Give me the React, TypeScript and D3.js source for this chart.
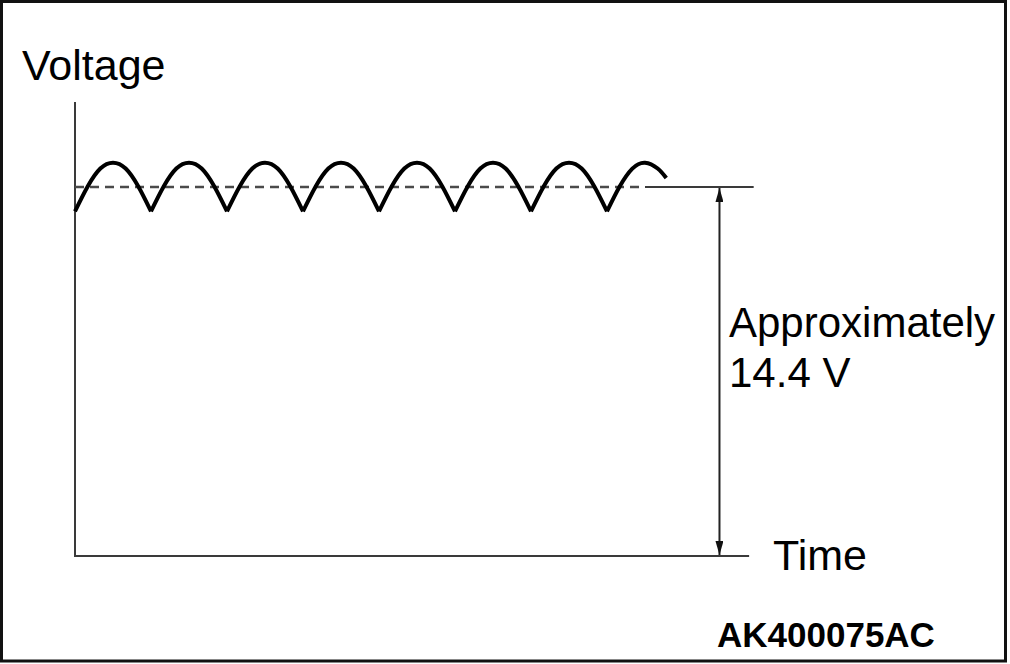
import React from "react";
import * as d3 from "d3";

// ---- data ----
const cycleStarts = [0, 1, 2, 3, 4, 5, 6, 7]; // ripple cycles (time units)
const archPhase = [0, 1 / 6, 1 / 3, 1 / 2, 2 / 3, 5 / 6, 1];
const archVoltage = [13.45, 14.42, 15.12, 15.35, 15.12, 14.42, 13.45];
const waveEndTime = 7.78;
const waveEndVoltage = 14.75;
const referenceVoltage = 14.4;
const timeAxisEnd = 8.87;
const yLabel = "Voltage";
const xLabel = "Time";
const valueLabel = ["Approximately", "14.4 V"];
const figureId = "AK400075AC";

const W = 1010;
const H = 664;
const FONT = "'Liberation Sans', Arial, Helvetica, sans-serif";

export default function App() {
  const x = d3.scaleLinear().domain([0, 9]).range([75, 759]);
  const y = d3.scaleLinear().domain([0, referenceVoltage]).range([556, 187]);

  const line = d3
    .line<{ t: number; v: number }>()
    .x((d) => x(d.t))
    .y((d) => y(d.v))
    .curve(d3.curveNatural);

  const arches = cycleStarts.map((c) => {
    let pts = archPhase.map((p, i) => ({ t: c + p, v: archVoltage[i] }));
    if (c + 1 > waveEndTime) {
      pts = pts.filter((d) => d.t < waveEndTime);
      pts.push({ t: waveEndTime, v: waveEndVoltage });
    }
    return line(pts) as string;
  });

  const x0 = x(0);
  const yBase = y(0);
  const yRef = y(referenceVoltage);
  const arrowX = x(8.48);
  const axisColor = "#3a3a3a";

  return (
    <svg
      width={W}
      height={H}
      style={{ position: "fixed", left: 0, top: 0, background: "#fff" }}
    >
      <defs>
        <marker
          id="ah"
          viewBox="0 0 10 10"
          refX="10"
          refY="5"
          markerWidth="14"
          markerHeight="8"
          markerUnits="userSpaceOnUse"
          orient="auto-start-reverse"
          preserveAspectRatio="none"
        >
          <path d="M0,0 L10,5 L0,10 Z" fill="#111" />
        </marker>
      </defs>
      <rect x={1.5} y={1.5} width={1004} height={659.5} fill="#fff" stroke="#111" strokeWidth={3} />

      {/* axes */}
      <line x1={x0} y1={102} x2={x0} y2={yBase} stroke={axisColor} strokeWidth={2} />
      <line x1={x0 - 1} y1={yBase} x2={x(timeAxisEnd)} y2={yBase} stroke={axisColor} strokeWidth={2} />

      {/* reference level */}
      <line
        x1={x0}
        y1={yRef}
        x2={x(7.45)}
        y2={yRef}
        stroke="#4a4a4a"
        strokeWidth={2.5}
        strokeDasharray="9 6"
      />
      <line x1={x(7.5)} y1={yRef} x2={x(8.93)} y2={yRef} stroke={axisColor} strokeWidth={2} />

      {/* ripple waveform */}
      {arches.map((d, i) => (
        <path key={i} d={d} fill="none" stroke="#000" strokeWidth={4} strokeLinejoin="miter" />
      ))}

      {/* double arrow */}
      <line
        x1={arrowX}
        y1={yRef + 1}
        x2={arrowX}
        y2={yBase - 1}
        stroke="#222"
        strokeWidth={2}
        markerStart="url(#ah)"
        markerEnd="url(#ah)"
      />

      {/* texts */}
      <text x={22} y={80} fontFamily={FONT} fontSize={43} fill="#000">
        {yLabel}
      </text>
      <text x={773} y={570} fontFamily={FONT} fontSize={43} fill="#000">
        {xLabel}
      </text>
      <text x={729} y={337} fontFamily={FONT} fontSize={42} fill="#000">
        {valueLabel[0]}
      </text>
      <text x={729} y={387} fontFamily={FONT} fontSize={42} fill="#000">
        {valueLabel[1]}
      </text>
      <text x={717} y={647} fontFamily={FONT} fontSize={35} fontWeight="bold" fill="#000">
        {figureId}
      </text>
    </svg>
  );
}
